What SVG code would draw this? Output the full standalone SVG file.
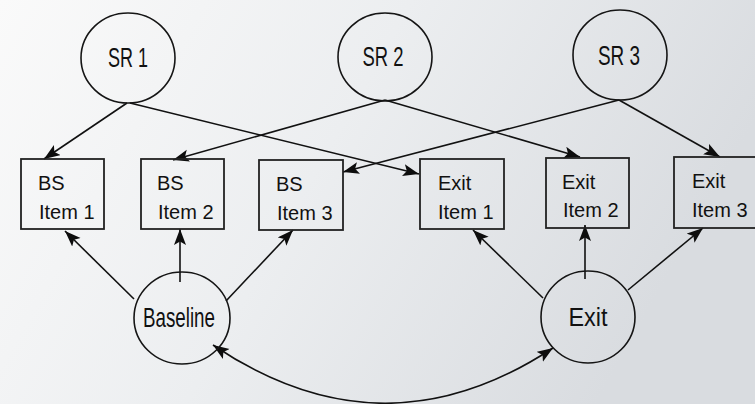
<svg xmlns="http://www.w3.org/2000/svg" width="755" height="404" viewBox="0 0 755 404">
<defs>
  <linearGradient id="bg" x1="0" y1="0" x2="1" y2="0.3">
    <stop offset="0" stop-color="#fafafa"/>
    <stop offset="0.5" stop-color="#eceef0"/>
    <stop offset="1" stop-color="#d9dce0"/>
  </linearGradient>
  <marker id="ah" markerUnits="userSpaceOnUse" markerWidth="18" markerHeight="14" refX="16" refY="6" orient="auto-start-reverse" viewBox="0 0 18 14">
    <path d="M0,0 L16,6 L0,12 L3.5,6 z" fill="#0d0d0d"/>
  </marker>
  <style>
    .node { fill: none; stroke: #151515; stroke-width: 1.6; }
    .box { fill: none; stroke: #222; stroke-width: 1.8; }
    .t { font-family: "Liberation Sans", Arial, sans-serif; font-size: 20px; fill: #111; }
    .c { font-family: "Liberation Sans", Arial, sans-serif; font-size: 28px; fill: #111; text-anchor: middle; }
    .edge { fill: none; stroke: #111; stroke-width: 1.6; marker-end: url(#ah); }
  </style>
</defs>
<rect width="755" height="404" fill="url(#bg)"/>

<g id="connectors">
  <line class="edge" x1="127" y1="103" x2="44" y2="159"/>
  <line class="edge" x1="130" y1="103" x2="419" y2="174"/>
  <line class="edge" x1="385" y1="100" x2="173" y2="160"/>
  <line class="edge" x1="385" y1="100" x2="580" y2="157"/>
  <line class="edge" x1="619" y1="100" x2="343" y2="172"/>
  <line class="edge" x1="619" y1="100" x2="720" y2="157"/>
  <line class="edge" x1="134" y1="299" x2="65" y2="231"/>
  <line class="edge" x1="180" y1="282" x2="180" y2="229"/>
  <line class="edge" x1="226" y1="301" x2="293" y2="230"/>
  <line class="edge" x1="543" y1="298" x2="473" y2="230"/>
  <line class="edge" x1="585" y1="279" x2="585" y2="225"/>
  <line class="edge" x1="628" y1="290" x2="703" y2="228"/>
  <path class="edge" d="M213,345 Q383,460 553,348" marker-start="url(#ah)"/>
</g>

<g id="sr1">
  <ellipse class="node" cx="128" cy="58" rx="47" ry="45"/>
  <text class="c" x="128" y="67" textLength="40" lengthAdjust="spacingAndGlyphs">SR 1</text>
</g>
<g id="sr2">
  <ellipse class="node" cx="385" cy="57" rx="47" ry="44"/>
  <text class="c" x="383" y="66" textLength="41" lengthAdjust="spacingAndGlyphs">SR 2</text>
</g>
<g id="sr3">
  <ellipse class="node" cx="620" cy="55" rx="47" ry="45"/>
  <text class="c" x="619" y="65" textLength="42" lengthAdjust="spacingAndGlyphs">SR 3</text>
</g>

<g id="bs1">
  <rect class="box" x="21" y="159" width="83" height="70"/>
  <text class="t" x="38" y="190">BS</text>
  <text class="t" x="39" y="219">Item 1</text>
</g>
<g id="bs2">
  <rect class="box" x="141" y="159" width="83" height="70"/>
  <text class="t" x="157" y="190">BS</text>
  <text class="t" x="158" y="219">Item 2</text>
</g>
<g id="bs3">
  <rect class="box" x="259" y="160" width="84" height="70"/>
  <text class="t" x="276" y="191">BS</text>
  <text class="t" x="277" y="220">Item 3</text>
</g>
<g id="exit1">
  <rect class="box" x="420" y="159" width="84" height="70"/>
  <text class="t" x="438" y="190">Exit</text>
  <text class="t" x="438" y="219">Item 1</text>
</g>
<g id="exit2">
  <rect class="box" x="546" y="158" width="83" height="70"/>
  <text class="t" x="562" y="189">Exit</text>
  <text class="t" x="563" y="217">Item 2</text>
</g>
<g id="exit3">
  <rect class="box" x="674" y="157" width="84" height="71"/>
  <text class="t" x="692" y="188">Exit</text>
  <text class="t" x="692" y="217">Item 3</text>
</g>

<g id="baseline">
  <ellipse class="node" cx="182" cy="318" rx="48" ry="46"/>
  <text class="c" x="179" y="327" textLength="72" lengthAdjust="spacingAndGlyphs">Baseline</text>
</g>
<g id="exit">
  <ellipse class="node" cx="588" cy="317" rx="47" ry="46"/>
  <text class="c" x="588" y="326" font-size="25" textLength="39" lengthAdjust="spacingAndGlyphs" style="font-size:25px">Exit</text>
</g>
</svg>
